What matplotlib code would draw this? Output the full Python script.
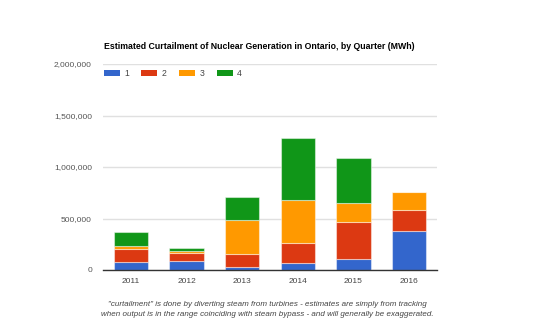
import matplotlib
matplotlib.use("Agg")
import matplotlib.pyplot as plt
import numpy as np
from matplotlib.patches import Rectangle

plt.rcParams['font.family'] = ['Liberation Sans', 'DejaVu Sans']

years = ["2011", "2012", "2013", "2014", "2015", "2016"]
quarters = ["1", "2", "3", "4"]
q1 = [80000, 85000, 26000, 65000, 110000, 379000]
q2 = [120000, 77000, 126000, 200000, 353000, 204000]
q3 = [32000, 22000, 330000, 411000, 184000, 171000]
q4 = [140000, 30000, 224000, 602000, 437000, 0]
series = [q1, q2, q3, q4]
colors = ["#3366cc", "#dc3912", "#ff9900", "#109618"]
yticks = [0, 500000, 1000000, 1500000, 2000000]

W, H = 540, 334
fig = plt.figure(figsize=(W / 100, H / 100), dpi=100)
ax = fig.add_axes([103 / W, 1 - 270 / H, 334 / W, 206 / H])

x = np.arange(len(years))
bottom = np.zeros(len(years))
for vals, c in zip(series, colors):
    v = np.array(vals, dtype=float)
    ax.bar(x, v, bottom=bottom, width=0.62, color=c,
           edgecolor=(1, 1, 1, 0.45), linewidth=0.8, zorder=3)
    bottom += v

ax.set_xlim(-0.5, len(years) - 0.5)
ax.set_ylim(0, 2000000)
ax.set_yticks(yticks)
ax.set_yticklabels([f"{t:,}" for t in yticks], color="#555555", fontsize=6.0)
ax.set_xticks(x)
ax.set_xticklabels(years, color="#444444", fontsize=6.0)
ax.tick_params(axis="both", length=0)
ax.tick_params(axis="y", pad=8)
ax.tick_params(axis="x", pad=5.5)
ax.grid(axis="y", color="#e0e0e0", linewidth=1, zorder=0)
for s in ["top", "right", "left"]:
    ax.spines[s].set_visible(False)
ax.spines["bottom"].set_color("#333333")
ax.spines["bottom"].set_linewidth(1)
ax.spines["bottom"].set_zorder(4)

fig.text(104 / W, 1 - 46.3 / H,
         "Estimated Curtailment of Nuclear Generation in Ontario, by Quarter (MWh)",
         fontsize=6.3, fontweight="bold", color="#000000", va="center", ha="left")

# legend row
for i, (lab, c) in enumerate(zip(quarters, colors)):
    x0 = 103.5 + i * 37.7
    fig.patches.append(Rectangle((x0 / W, 1 - 76 / H), 16 / W, 6.5 / H,
                                 transform=fig.transFigure, facecolor=c,
                                 edgecolor="none"))
    fig.text((x0 + 20.5) / W, 1 - 73.2 / H, lab, fontsize=6.2,
             color="#444444", va="center", ha="left")

fig.text(267 / W, 1 - 305 / H,
         "\"curtailment\" is done by diverting steam from turbines - estimates are simply from tracking",
         fontsize=5.75, style="italic", color="#444444", ha="center", va="center")
fig.text(267 / W, 1 - 314.5 / H,
         "when output is in the range coinciding with steam bypass - and will generally be exaggerated.",
         fontsize=5.75, style="italic", color="#444444", ha="center", va="center")

fig.savefig("out.png", dpi=100, facecolor="white")
